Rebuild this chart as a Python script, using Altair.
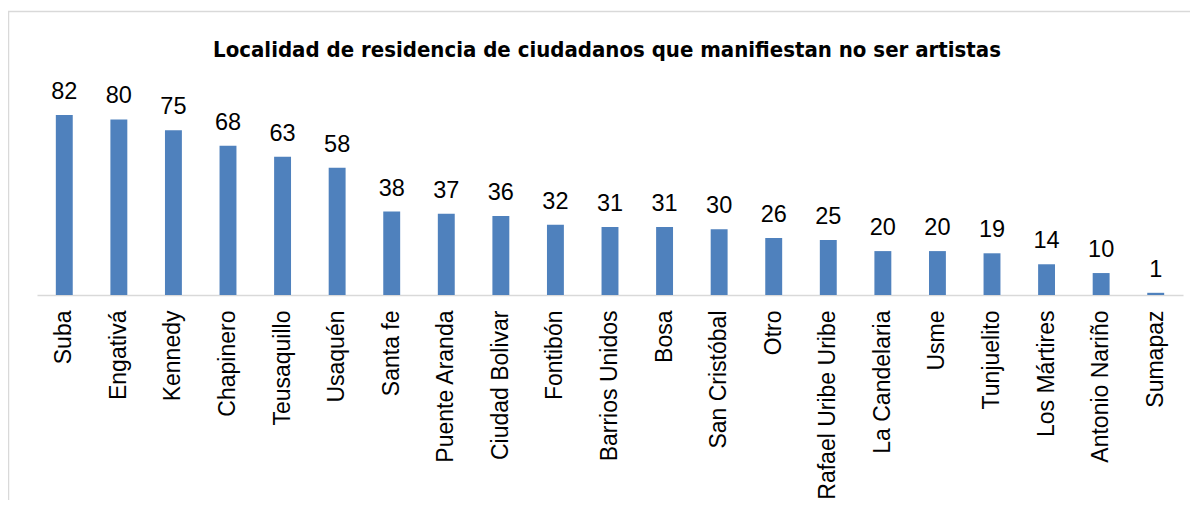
import altair as alt
import pandas as pd

categories = ["Suba", "Engativá", "Kennedy", "Chapinero", "Teusaquillo", "Usaquén",
              "Santa fe", "Puente Aranda", "Ciudad Bolivar", "Fontibón", "Barrios Unidos",
              "Bosa", "San Cristóbal", "Otro", "Rafael Uribe Uribe", "La Candelaria",
              "Usme", "Tunjuelito", "Los Mártires", "Antonio Nariño", "Sumapaz"]
values = [82, 80, 75, 68, 63, 58, 38, 37, 36, 32, 31, 31, 30, 26, 25, 20, 20, 19, 14, 10, 1]
title_text = "Localidad de residencia de ciudadanos que manifiestan no ser artistas"

df = pd.DataFrame({"cat": categories, "val": values})

W = 1146
H = 225

x_enc = alt.X("cat:N", sort=categories,
              scale=alt.Scale(paddingInner=0.69, paddingOuter=0.345),
              axis=alt.Axis(title=None, labelAngle=-90, ticks=False, labelPadding=15,
                            labelFont="Liberation Sans", labelFontSize=23,
                            labelColor="#000000", domainColor="#D9D9D9",
                            domainWidth=1.5, labelLimit=400))
y_enc = alt.Y("val:Q", scale=alt.Scale(domain=[0, 102.5], nice=False), axis=None)

bars = alt.Chart(df).mark_bar(color="#4F81BD").encode(x=x_enc, y=y_enc)
labels = alt.Chart(df).mark_text(font="Liberation Sans", fontSize=23.5, color="#000000",
                                 baseline="alphabetic", dy=-16).encode(
    x=alt.X("cat:N", sort=categories), y="val:Q", text="val:Q")

one_df = pd.DataFrame({"t": [title_text]})
frame = alt.Chart(one_df).mark_rect(fill=None, stroke="#D9D9D9", strokeWidth=1.5).encode(
    x=alt.value(-28.5), x2=alt.value(W + 40), y=alt.value(-58.5), y2=alt.value(H + 300))
title = alt.Chart(one_df).mark_text(font="DejaVu Sans Condensed", fontSize=22,
                                    fontWeight="bold", color="#000000", align="center",
                                    baseline="alphabetic").encode(
    x=alt.value(570), y=alt.value(-13.5), text="t:N")

chart = alt.layer(frame, bars, labels, title).properties(
    width=W, height=H,
    autosize=alt.AutoSizeParams(type="none"),
    padding={"left": 29, "top": 62, "right": 7, "bottom": 205},
).configure_view(stroke=None)

chart.save("out.html", embed_options={"renderer": "svg", "actions": False})
